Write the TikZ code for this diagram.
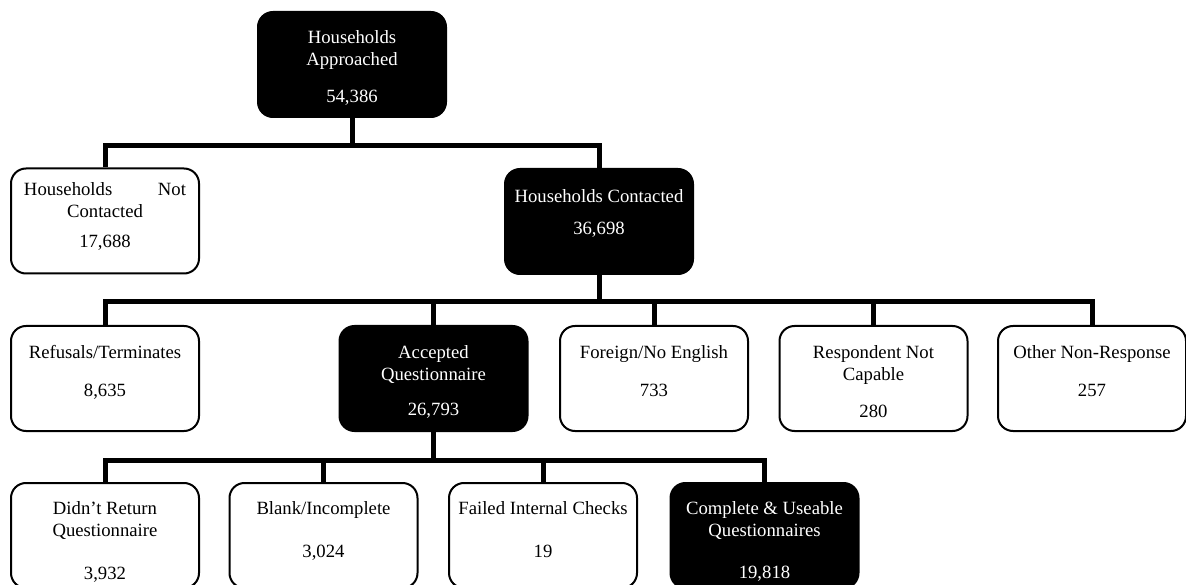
\documentclass[tikz,border=0pt]{standalone}
\usepackage{fontspec}
\setmainfont{Liberation Serif}
\usepackage{tikz}
\usetikzlibrary{calc}
\usetikzlibrary{positioning}

% text of one box, set from the top edge down
\newcommand{\cellbox}[2]{\begin{minipage}[t][105pt][t]{188pt}\centering\rule{0pt}{#1}#2\end{minipage}}

\begin{document}
\begin{tikzpicture}[x=1pt, y=-1pt,
    font=\fontsize{18.7}{22}\selectfont,
    whitebox/.style={draw=black, line width=2pt, rounded corners=15pt, fill=white, text=black, inner sep=0pt},
    blackbox/.style={draw=black, line width=2pt, rounded corners=15pt, fill=black, text=white, inner sep=0pt},
    link/.style={line width=5pt, line join=miter}]

    % 1. Frame of the page
    \path[use as bounding box] (0,0) rectangle (1186,585);
    \clip (0,0) rectangle (1186,585);

    % 2. Top of the tree and the first split
    \node[blackbox] (appr) at (352,64.5) {\cellbox{32pt}{Households\\Approached\\[15pt]54,386}};
    \node[whitebox] (notc) at (105,221) {\cellbox{27pt}{\makebox[162pt]{Households\hfill Not}\\Contacted\\[8pt]17,688}};
    \node[blackbox] (cont) at (599,221.5) {\cellbox{34pt}{Households Contacted\\[10pt]36,698}};

    % 3. Outcomes of the contacted households
    \node[whitebox] (refu) at (105,378.5) {\cellbox{32pt}{Refusals/Terminates\\[17pt]8,635}};
    \node[blackbox] (acce) at (433.5,378.5) {\cellbox{32pt}{Accepted\\Questionnaire\\[14pt]26,793}};
    \node[whitebox] (fore) at (654,378.5) {\cellbox{32pt}{Foreign/No English\\[17pt]733}};
    \node[whitebox] (resp) at (873.5,378.5) {\cellbox{32pt}{Respondent Not\\Capable\\[15pt]280}};
    \node[whitebox] (othe) at (1092,378.5) {\cellbox{32pt}{Other Non-Response\\[17pt]257}};

    % 4. Outcomes of the accepted questionnaires
    \node[whitebox] (didn) at (105,535.5) {\cellbox{31pt}{Didn't Return\\Questionnaire\\[21pt]3,932}};
    \node[whitebox] (blan) at (323.5,535.5) {\cellbox{31pt}{Blank/Incomplete\\[21pt]3,024}};
    \node[whitebox] (fail) at (543,535.5) {\cellbox{31pt}{Failed Internal Checks\\[21pt]19}};
    \node[blackbox] (comp) at (764.5,535.5) {\cellbox{31pt}{Complete \& Useable\\Questionnaires\\[20pt]19,818}};

    % 5. Connectors
    \coordinate (b1) at ($(appr.south)+(0,28)$);
    \draw[link] (appr.south) -- (b1);
    \draw[link] (notc.north) |- (b1) -| (cont.north);

    \coordinate (b2) at ($(cont.south)+(0,27)$);
    \draw[link] (cont.south) -- (b2);
    \draw[link] (refu.north) |- (b2) -| (othe.north);
    \foreach \n in {acce,fore,resp} {
        \draw[link] (\n.north) -- (\n.north |- b2);
    }

    \coordinate (b3) at ($(acce.south)+(0,28)$);
    \draw[link] (acce.south) -- (b3);
    \draw[link] (didn.north) |- (b3) -| (comp.north);
    \foreach \n in {blan,fail} {
        \draw[link] (\n.north) -- (\n.north |- b3);
    }

\end{tikzpicture}
\end{document}
